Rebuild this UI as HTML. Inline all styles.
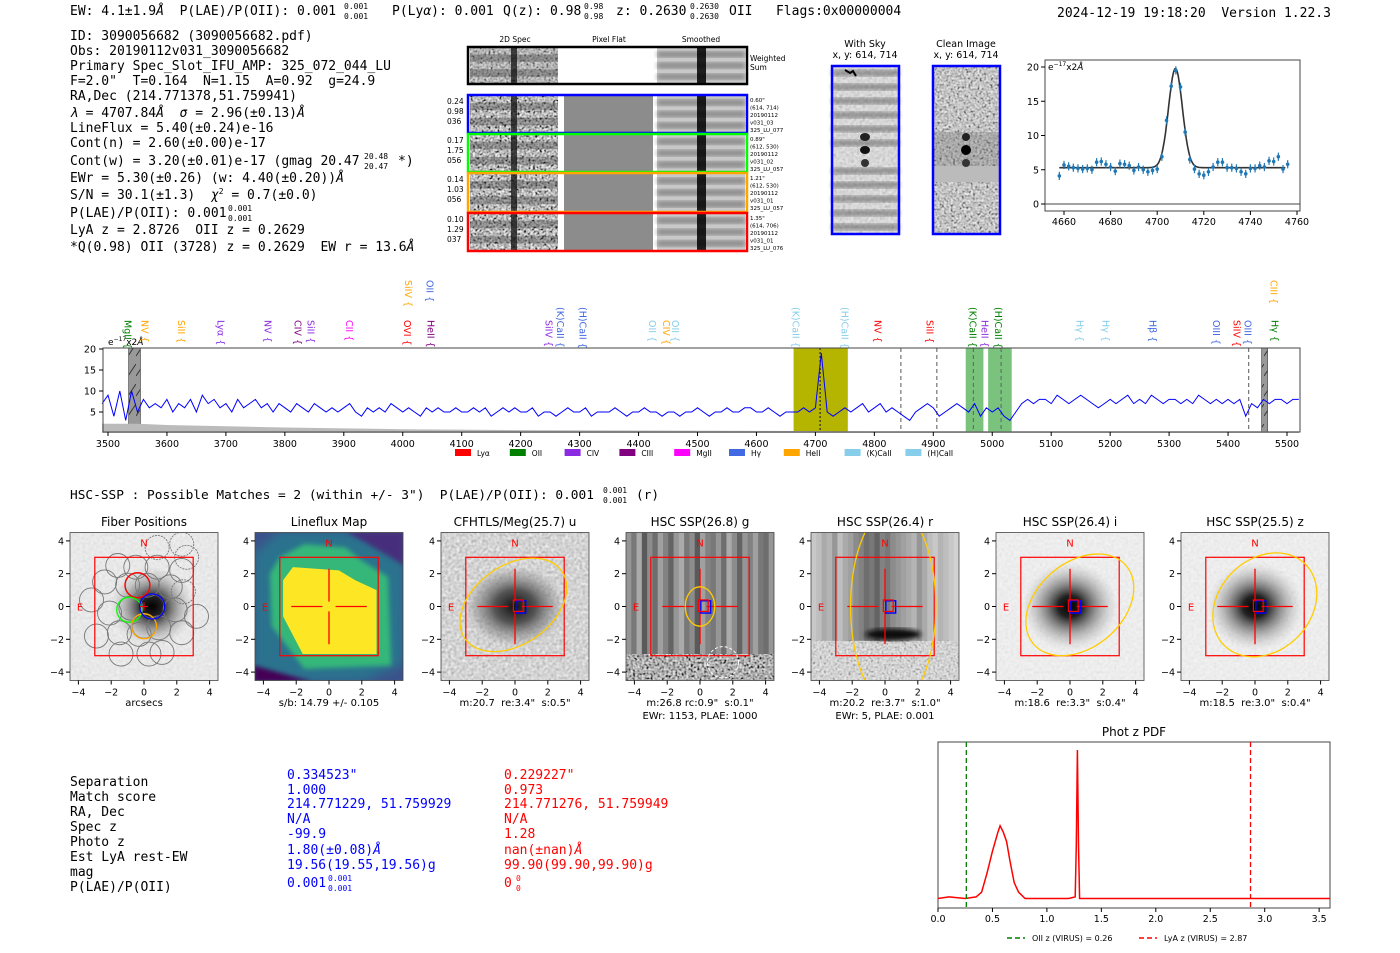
<!DOCTYPE html>
<html><head><meta charset="utf-8"><title>Detection report</title>
<style>
html,body{margin:0;padding:0;background:#fff;}
svg{display:block;}
text{white-space:pre;}
.m{font-family:"DejaVu Sans Mono","Liberation Mono",monospace;}
.s{font-family:"DejaVu Sans","Liberation Sans",sans-serif;}
</style></head>
<body>
<svg id="root" width="1400" height="953" viewBox="0 0 1400 953" xmlns="http://www.w3.org/2000/svg" xml:space="preserve">
<defs>
<filter id="noiseHi" x="0" y="0" width="1" height="1"><feTurbulence type="fractalNoise" baseFrequency="0.45" numOctaves="1" seed="4"/><feColorMatrix type="matrix" values="1.5 1.5 0 0 -1.0  1.5 1.5 0 0 -1.0  1.5 1.5 0 0 -1.0  0 0 0 0 1"/></filter>
<filter id="noiseLo" x="0" y="0" width="1" height="1"><feTurbulence type="fractalNoise" baseFrequency="0.35" numOctaves="1" seed="9"/><feColorMatrix type="matrix" values="0.8 0.8 0 0 -0.2  0.8 0.8 0 0 -0.2  0.8 0.8 0 0 -0.2  0 0 0 0 1"/></filter>
<filter id="blurS"><feGaussianBlur stdDeviation="2.5"/></filter>
<filter id="blurL"><feGaussianBlur stdDeviation="5"/></filter>
<radialGradient id="blobDark"><stop offset="0" stop-color="#000"/><stop offset="0.25" stop-color="#222"/><stop offset="0.6" stop-color="#777" stop-opacity="0.6"/><stop offset="1" stop-color="#bbb" stop-opacity="0"/></radialGradient>
<radialGradient id="blobMid"><stop offset="0" stop-color="#111"/><stop offset="0.4" stop-color="#555"/><stop offset="0.8" stop-color="#999" stop-opacity="0.5"/><stop offset="1" stop-color="#ccc" stop-opacity="0"/></radialGradient>
<pattern id="hatch" width="8" height="20" patternUnits="userSpaceOnUse"><rect width="8" height="20" fill="#999"/><line x1="0" y1="16" x2="8" y2="4" stroke="#333" stroke-width="1"/></pattern>
</defs>

<!-- header -->
<g class="m" font-size="13" fill="#000">
<text x="70" y="15">EW: 4.1±1.9<tspan font-style="italic">Å</tspan>  P(LAE)/P(OII): 0.001</text>
<text x="344" y="9" font-size="8">0.001</text><text x="344" y="19" font-size="8">0.001</text>
<text x="392" y="15">P(Ly<tspan font-style="italic">α</tspan>): 0.001</text>
<text x="503" y="15">Q(z): 0.98</text>
<text x="584" y="9" font-size="8">0.98</text><text x="584" y="19" font-size="8">0.98</text>
<text x="616" y="15">z: 0.2630</text>
<text x="690" y="9" font-size="8">0.2630</text><text x="690" y="19" font-size="8">0.2630</text>
<text x="729" y="15">OII   Flags:0x00000004</text>
<text x="1057" y="17">2024-12-19 19:18:20  Version 1.22.3</text>
</g>

<!-- info block -->
<g class="m" font-size="13" fill="#000">
<text x="70" y="40">ID: 3090056682 (3090056682.pdf)</text>
<text x="70" y="55">Obs: 20190112v031_3090056682</text>
<text x="70" y="70">Primary Spec_Slot_IFU_AMP: 325_072_044_LU</text>
<text x="70" y="85">F=2.0"  T=0.164  N=1.15  A=0.92  g=24.9</text>
<text x="70" y="100">RA,Dec (214.771378,51.759941)</text>
<text x="70" y="117"><tspan font-style="italic">λ</tspan> = 4707.84<tspan font-style="italic">Å</tspan>  <tspan font-style="italic">σ</tspan> = 2.96(±0.13)<tspan font-style="italic">Å</tspan></text>
<text x="70" y="132">LineFlux = 5.40(±0.24)e-16</text>
<text x="70" y="147">Cont(n) = 2.60(±0.00)e-17</text>
<text x="70" y="165">Cont(w) = 3.20(±0.01)e-17 (gmag 20.47</text>
<text x="364" y="159" font-size="8">20.48</text><text x="364" y="169" font-size="8">20.47</text>
<text x="398" y="165">*)</text>
<text x="70" y="182">EWr = 5.30(±0.26) (w: 4.40(±0.20))<tspan font-style="italic">Å</tspan></text>
<text x="70" y="199">S/N = 30.1(±1.3)  <tspan font-style="italic">χ</tspan><tspan font-size="8" dy="-5">2</tspan><tspan dy="5"> = 0.7(±0.0)</tspan></text>
<text x="70" y="217">P(LAE)/P(OII): 0.001</text>
<text x="228" y="211" font-size="8">0.001</text><text x="228" y="221" font-size="8">0.001</text>
<text x="70" y="234">LyA z = 2.8726  OII z = 0.2629</text>
<text x="70" y="251">*Q(0.98) OII (3728) z = 0.2629  EW r = 13.6<tspan font-style="italic">Å</tspan></text>
</g>

<!-- 2D spectra -->
<g id="spec2d">
<g class="s" font-size="7.5" fill="#000"><text x="515" y="42" text-anchor="middle">2D Spec</text><text x="609" y="42" text-anchor="middle">Pixel Flat</text><text x="701" y="42" text-anchor="middle">Smoothed</text>
<text x="750" y="61">Weighted</text><text x="750" y="70">Sum</text></g>
</g>

<!-- with sky / clean -->
<g class="s" font-size="9.5">
<text x="865" y="47" text-anchor="middle">With Sky</text><text x="865" y="58" text-anchor="middle">x, y: 614, 714</text>
<text x="966" y="47" text-anchor="middle">Clean Image</text><text x="966" y="58" text-anchor="middle">x, y: 614, 714</text>
<g>
<rect x="832" y="66" width="67" height="168" fill="#ddd"/>
<rect x="832" y="66" width="67" height="168" filter="url(#noiseLo)" opacity="0.35"/>
<g id="skyBands"></g>
<ellipse cx="865" cy="137" rx="5" ry="4" fill="#222"/><ellipse cx="865" cy="150" rx="5" ry="4" fill="#111"/><ellipse cx="865" cy="163" rx="4" ry="4" fill="#333"/>
<path d="M845 70 l5 3 l3 -2 l3 5" stroke="#000" stroke-width="2" fill="none"/>
<rect x="832" y="66" width="67" height="168" fill="none" stroke="#00f" stroke-width="2.5"/>
</g>
<g>
<rect x="933" y="66" width="67" height="168" fill="#ccc"/>
<rect x="933" y="66" width="67" height="168" filter="url(#noiseHi)" opacity="0.55"/>
<rect x="933" y="132" width="67" height="34" fill="#777" opacity="0.35"/>
<rect x="933" y="166" width="67" height="16" fill="#bbb"/>
<ellipse cx="966" cy="137" rx="4" ry="4" fill="#222"/><ellipse cx="966" cy="150" rx="5" ry="5" fill="#000"/><ellipse cx="966" cy="163" rx="4" ry="4" fill="#333"/>
<rect x="933" y="66" width="67" height="168" fill="none" stroke="#00f" stroke-width="2.5"/>
</g>
</g>

<g id="linefit"></g>
<g id="spectrum"></g>

<text class="m" font-size="12.8" x="70" y="499">HSC-SSP : Possible Matches = 2 (within +/- 3")  P(LAE)/P(OII): 0.001</text>
<text class="m" font-size="8" x="603" y="493">0.001</text>
<text class="m" font-size="8" x="603" y="503">0.001</text>
<text class="m" font-size="12.8" x="636" y="499">(r)</text>

<g id="cutouts"></g>

<!-- match table -->
<g class="m" font-size="13">
<g fill="#000"><text x="70" y="786">Separation</text><text x="70" y="801">Match score</text><text x="70" y="816">RA, Dec</text><text x="70" y="831">Spec z</text><text x="70" y="846">Photo z</text><text x="70" y="861">Est LyA rest-EW</text><text x="70" y="876">mag</text><text x="70" y="891">P(LAE)/P(OII)</text></g>
<g fill="#00f"><text x="287" y="779">0.334523"</text><text x="287" y="794">1.000</text><text x="287" y="808">214.771229, 51.759929</text><text x="287" y="823">N/A</text><text x="287" y="838">-99.9</text><text x="287" y="854">1.80(±0.08)<tspan font-style="italic">Å</tspan></text><text x="287" y="869">19.56(19.55,19.56)g</text><text x="287" y="887">0.001</text><text x="328" y="881" font-size="8">0.001</text><text x="328" y="891" font-size="8">0.001</text></g>
<g fill="#f00"><text x="504" y="779">0.229227"</text><text x="504" y="794">0.973</text><text x="504" y="808">214.771276, 51.759949</text><text x="504" y="823">N/A</text><text x="504" y="838">1.28</text><text x="504" y="854">nan(±nan)<tspan font-style="italic">Å</tspan></text><text x="504" y="869">99.90(99.90,99.90)g</text><text x="504" y="887">0</text><text x="516" y="881" font-size="8">0</text><text x="516" y="891" font-size="8">0</text></g>
</g>

<g id="photz"></g>
</svg>

<script>
// ===== line fit data =====
var fitWave = [4658,4660,4662,4664,4666,4668,4670,4672,4674,4676,4678,4680,4682,4684,4686,4688,4690,4692,4694,4696,4698,4700,4702,4704,4706,4708,4710,4712,4714,4716,4718,4720,4722,4724,4726,4728,4730,4732,4734,4736,4738,4740,4742,4744,4746,4748,4750,4752,4754,4756];
var fitFlux = [4.1,5.7,5.5,5.3,5.2,5.1,5.2,5.0,6.1,6.2,5.8,5.4,4.8,5.9,5.8,5.6,4.9,5.4,5.0,4.7,4.9,5.1,6.9,12.2,17.2,19.5,17.1,10.5,6.5,5.1,4.4,4.2,4.7,5.4,6.1,6.1,5.3,5.3,5.2,4.7,4.4,5.2,5.2,5.6,5.4,6.3,6.2,6.9,5.1,5.8];
var fitErr = [0.6,0.6,0.6,0.6,0.6,0.6,0.6,0.6,0.6,0.6,0.6,0.6,0.6,0.6,0.6,0.6,0.6,0.6,0.6,0.6,0.6,0.6,0.6,0.6,0.6,0.6,0.6,0.6,0.6,0.6,0.6,0.6,0.6,0.6,0.6,0.6,0.6,0.6,0.6,0.6,0.6,0.6,0.6,0.6,0.6,0.6,0.6,0.6,0.6,0.6];
var fitParams = [4707.84, 2.96, 14.5, 5.3]; // center, sigma, amplitude, continuum
var fitXTicks = [4660,4680,4700,4720,4740,4760];
var fitYTicks = [0,5,10,15,20];

// ===== spectrum data =====
var specStart = [3490];
var specStep = [10];
var specFlux = [7,9,4,10,3,10,5,8,6,7, 6,8,5,7,6,8,5,9,7,8, 6,7,5,8,6,7,8,6,7,5, 7,6,5,7,6,5,7,6,5,6, 5,6,7,5,4,6,5,6,5,7, 6,5,6,5,4,6,5,6,5,5, 6,5,5,6,5,6,4,5,6,5, 6,5,5,6,4,5,5,4,5,6, 5,5,6,4,5,5,5,6,5,4, 5,5,6,5,5,4,5,5,4,5, 5,6,5,4,5,5,6,5,5,6, 6,5,5,6,5,4,5,5,5,6, 5,6,19,5,4,5,6,5,6,7, 5,6,7,5,6,5,4,3,5,6, 7,6,4,5,6,7,6,5,7,4, 6,5,6,4,3,5,7,8,7,8, 8,7,9,8,7,8,9,8,7,6, 7,8,7,8,9,7,8,7,9,8, 7,8,8,7,8,7,9,8,7,8, 7,8,7,8,4,7,6,8,7,8, 8,7,8,8];
var noiseWave = [3490,3550,3600,3700,3800,3900,4000,4200,4400,4600,4800,5000,5200,5520];
var noiseFlux = [2.2,2.2,1.9,1.6,1.3,1.1,0.9,0.7,0.6,0.5,0.4,0.4,0.4,0.4];
var specXTicks = [3500,3600,3700,3800,3900,4000,4100,4200,4300,4400,4500,4600,4700,4800,4900,5000,5100,5200,5300,5400,5500];
var specYTicks = [5,10,15,20];
var lineNames = ["MgII","NV","SiII","Lyα","NV","CIV","SiII","CII","SiIV","OVI","OII","HeII","SiIV","(K)CaII","(H)CaII","OII","CIV","OII","(K)CaII","(H)CaII","NV","SiII","(K)CaII","HeII","(H)CaII","Hγ","Hγ","Hβ","OIII","SiIV","OIII","CIII","Hγ"];
var lineWaves = [3534,3563,3625,3692,3771,3822,3844,3910,4010,4008,4046,4048,4248,4268,4306,4424,4447,4463,4667,4750,4806,4894,4967,4988,5011,5149,5193,5273,5380,5415,5434,5478,5480];
var lineRows = [1,1,1,1,1,1,1,1,0,1,0,1,1,1,1,1,1,1,1,1,1,1,1,1,1,1,1,1,1,1,1,0,1];
var lineColors = ["#008000","#ffa500","#ffa500","#8a2be2","#8a2be2","#800080","#8a2be2","#ff00ff","#ffa500","#ff0000","#4169e1","#800080","#8a2be2","#4169e1","#4169e1","#87ceeb","#ffa500","#87ceeb","#87ceeb","#87ceeb","#ff0000","#ff0000","#008000","#8a2be2","#008000","#87ceeb","#87ceeb","#4169e1","#4169e1","#ff0000","#4169e1","#ffa500","#008000"];
var maskStart = [3535,5457];
var maskEnd = [3555,5467];
var bandStart = [4663,4955,4993];
var bandEnd = [4755,4985,5033];
var bandColors = ["#b5b500","#4caf50","#4caf50"];
var dashWaves = [4708,4845,4906,4968,5015,5435];
var legendNames = ["Lyα","OII","CIV","CIII","MgII","Hγ","HeII","(K)CaII","(H)CaII"];
var legendColors = ["#ff0000","#008000","#8a2be2","#800080","#ff00ff","#4169e1","#ffa500","#87ceeb","#87ceeb"];

// ===== photz data =====
var pzZ = [0,0.1,0.25,0.35,0.4,0.45,0.5,0.55,0.57,0.6,0.63,0.66,0.7,0.74,0.8,1.0,1.2,1.26,1.27,1.28,1.29,1.3,1.4,2.0,3.0,3.6];
var pzP = [0.06,0.07,0.06,0.07,0.1,0.22,0.36,0.48,0.52,0.48,0.42,0.3,0.16,0.1,0.06,0.06,0.06,0.07,0.4,1.0,0.4,0.06,0.06,0.06,0.06,0.06];
var pzXTicks = [0,0.5,1.0,1.5,2.0,2.5,3.0,3.5];
var pzMarks = [0.26,2.87];

var NS='http://www.w3.org/2000/svg';
function mk(tag,parent){var e=document.createElementNS(NS,tag);parent.appendChild(e);return e;}
function txt(parent,x,y,s,size,anchor,fill){var t=mk('text',parent);t.setAttribute('x',x);t.setAttribute('y',y);t.setAttribute('font-size',size);t.setAttribute('font-family','DejaVu Sans, Liberation Sans, sans-serif');if(anchor)t.setAttribute('text-anchor',anchor);t.setAttribute('fill',fill||'#000');t.textContent=s;return t;}

// ===== 2D spectra =====
(function(){
 var g=document.getElementById('spec2d');
 var boxes=[{y:47,h:37,c:'#000',l:null,r:null},{y:95,h:38,c:'#00f',l:['0.24','0.98','036'],r:['0.60"','(614, 714)','20190112','v031_03','325_LU_077']},{y:134,h:38,c:'#0f0',l:['0.17','1.75','056'],r:['0.89"','(612, 530)','20190112','v031_02','325_LU_057']},{y:173,h:39,c:'#ffa500',l:['0.14','1.03','056'],r:['1.21"','(612, 530)','20190112','v031_01','325_LU_057']},{y:213,h:38,c:'#f00',l:['0.10','1.29','037'],r:['1.35"','(614, 706)','20190112','v031_01','325_LU_076']}];
 boxes.forEach(function(b,i){
  var bg=mk('g',g);
  
  
  var r=mk('rect',bg);r.setAttribute('x',470);r.setAttribute('y',b.y);r.setAttribute('width',88);r.setAttribute('height',b.h);r.setAttribute('fill','#aaa');
  var n=mk('rect',bg);n.setAttribute('x',470);n.setAttribute('y',b.y);n.setAttribute('width',88);n.setAttribute('height',b.h);n.setAttribute('filter','url(#noiseHi)');n.setAttribute('opacity',i==0?0.55:0.85);
  for(var k=0;k<2;k++){var d=mk('rect',bg);d.setAttribute('x',470);d.setAttribute('y',b.y+b.h*(0.2+0.4*k));d.setAttribute('width',88);d.setAttribute('height',b.h*0.2);d.setAttribute('fill','#333');d.setAttribute('opacity',0.35);}
  var col=mk('rect',bg);col.setAttribute('x',511);col.setAttribute('y',b.y);col.setAttribute('width',6);col.setAttribute('height',b.h);col.setAttribute('fill','#111');col.setAttribute('opacity',0.75);
  var pf=mk('rect',bg);pf.setAttribute('x',564);pf.setAttribute('y',b.y);pf.setAttribute('width',89);pf.setAttribute('height',b.h);pf.setAttribute('fill',i==0?'#fff':'#8c8c8c');
  var sm=mk('rect',bg);sm.setAttribute('x',657);sm.setAttribute('y',b.y);sm.setAttribute('width',88);sm.setAttribute('height',b.h);sm.setAttribute('fill','#c8c8c8');
  for(var k=0;k<3;k++){var d2=mk('rect',bg);d2.setAttribute('x',657);d2.setAttribute('y',b.y+b.h*(0.12+0.3*k));d2.setAttribute('width',88);d2.setAttribute('height',b.h*0.16);d2.setAttribute('fill','#555');d2.setAttribute('opacity',0.55);d2.setAttribute('filter','url(#blurS)');}
  var c2=mk('rect',bg);c2.setAttribute('x',697);c2.setAttribute('y',b.y);c2.setAttribute('width',9);c2.setAttribute('height',b.h);c2.setAttribute('fill','#000');c2.setAttribute('opacity',0.85);
  var fr=mk('rect',bg);fr.setAttribute('x',468);fr.setAttribute('y',b.y);fr.setAttribute('width',279);fr.setAttribute('height',b.h);fr.setAttribute('fill','none');fr.setAttribute('stroke',b.c);fr.setAttribute('stroke-width',2.5);
  if(b.l){b.l.forEach(function(s,j){txt(bg,447,b.y+9+j*10,s,7.5,null,'#000');});}
  if(b.r){b.r.forEach(function(s,j){txt(bg,750,b.y+7+j*7.5,s,5.5,null,'#000');});}
 });
 var sb=document.getElementById('skyBands');
 for(var k=0;k<12;k++){ if(k==6) continue; var r=mk('rect',sb);r.setAttribute('x',832);r.setAttribute('y',70+k*14);r.setAttribute('width',67);r.setAttribute('height',6);r.setAttribute('fill','#555');r.setAttribute('opacity',0.6);r.setAttribute('filter','url(#blurS)');}
})();

// ===== line fit chart =====
(function(){
 var g=document.getElementById('linefit');
 var X0=1045,X1=1300,Y0=60,Y1=211;
 function fx(w){return 1064+(w-4660)*2.33;}
 function fy(v){return 204-v*6.85;}
 var f=mk('rect',g);f.setAttribute('x',X0);f.setAttribute('y',Y0);f.setAttribute('width',X1-X0);f.setAttribute('height',Y1-Y0);f.setAttribute('fill','none');f.setAttribute('stroke','#444');
 
 
 var z=mk('line',g);z.setAttribute('x1',X0);z.setAttribute('x2',X1);z.setAttribute('y1',fy(0));z.setAttribute('y2',fy(0));z.setAttribute('stroke','#444');
 fitXTicks.forEach(function(t){var l=mk('line',g);l.setAttribute('x1',fx(t));l.setAttribute('x2',fx(t));l.setAttribute('y1',Y1);l.setAttribute('y2',Y1+4);l.setAttribute('stroke','#000');var tt=txt(g,fx(t),Y1+14,String(t),9.5,'middle');});
 fitYTicks.forEach(function(t){var l=mk('line',g);l.setAttribute('x1',X0-4);l.setAttribute('x2',X0);l.setAttribute('y1',fy(t));l.setAttribute('y2',fy(t));l.setAttribute('stroke','#000');var tt=txt(g,X0-6,fy(t)+3.5,String(t),9.5,'end');});
 var u=txt(g,X0+3,Y0+10,'e',9,null);var sp=mk('tspan',u);sp.setAttribute('font-size',6);sp.setAttribute('dy',-4);sp.textContent='−17';var sp2=mk('tspan',u);sp2.setAttribute('dy',4);sp2.textContent='x2';var sp3=mk('tspan',u);sp3.setAttribute('font-style','italic');sp3.textContent='Å';
 
 
 var d='';for(var w=4658;w<=4755;w+=0.5){var v=fitParams[3]+fitParams[2]*Math.exp(-0.5*Math.pow((w-fitParams[0])/fitParams[1],2));d+=(d?'L':'M')+fx(w).toFixed(1)+' '+fy(v).toFixed(1);}
 var p=mk('path',g);p.setAttribute('d',d);p.setAttribute('stroke','#333');p.setAttribute('stroke-width',1.6);p.setAttribute('fill','none');
 
 
 fitWave.forEach(function(w,i){
  var e=mk('line',g);e.setAttribute('x1',fx(w));e.setAttribute('x2',fx(w));e.setAttribute('y1',fy(fitFlux[i]-fitErr[i]));e.setAttribute('y2',fy(fitFlux[i]+fitErr[i]));e.setAttribute('stroke','#1f77b4');e.setAttribute('stroke-width',1.2);
  var c=mk('circle',g);c.setAttribute('cx',fx(w));c.setAttribute('cy',fy(fitFlux[i]));c.setAttribute('r',1.8);c.setAttribute('fill','#1f77b4');
  
  
 });
})();

// ===== spectrum chart =====
(function(){
 var g=document.getElementById('spectrum');
 var X0=103,X1=1300,Y0=348,Y1=432;
 function sx(w){return 108+(w-3500)*0.5895;}
 function sy(v){return 433-v*4.2;}
 bandStart.forEach(function(s,i){var r=mk('rect',g);r.setAttribute('x',sx(s));r.setAttribute('y',Y0);r.setAttribute('width',sx(bandEnd[i])-sx(s));r.setAttribute('height',Y1-Y0);r.setAttribute('fill',bandColors[i]);r.setAttribute('opacity',i==0?1:0.75);
  
  });
 maskStart.forEach(function(s,i){var r=mk('rect',g);r.setAttribute('x',sx(s));r.setAttribute('y',Y0);r.setAttribute('width',sx(maskEnd[i])-sx(s));r.setAttribute('height',Y1-Y0);r.setAttribute('fill','url(#hatch)');r.setAttribute('stroke','#333');r.setAttribute('stroke-width',0.6);
  
  });
 var d='M'+sx(noiseWave[0])+' '+sy(0);noiseWave.forEach(function(w,i){d+='L'+sx(w).toFixed(1)+' '+sy(noiseFlux[i]).toFixed(1);});d+='L'+sx(noiseWave[noiseWave.length-1])+' '+sy(0)+'Z';
 var nf=mk('path',g);nf.setAttribute('d',d);nf.setAttribute('fill','#bbb');
 
 
 dashWaves.forEach(function(w,i){var l=mk('line',g);l.setAttribute('x1',sx(w));l.setAttribute('x2',sx(w));l.setAttribute('y1',Y0);l.setAttribute('y2',Y1);l.setAttribute('stroke',i==0?'#222':'#666');l.setAttribute('stroke-dasharray',i==0?'2,2':'4,3');l.setAttribute('stroke-width',1.1);
  
  });
 var pd='';specFlux.forEach(function(v,i){var w=specStart[0]+specStep[0]*i;pd+=(pd?'L':'M')+sx(w).toFixed(1)+' '+sy(v).toFixed(1);});
 var sp=mk('path',g);sp.setAttribute('d',pd);sp.setAttribute('stroke','#0000ff');sp.setAttribute('stroke-width',1);sp.setAttribute('fill','none');
 
 
 var fr=mk('rect',g);fr.setAttribute('x',X0);fr.setAttribute('y',Y0);fr.setAttribute('width',X1-X0);fr.setAttribute('height',Y1-Y0);fr.setAttribute('fill','none');fr.setAttribute('stroke','#444');
 specXTicks.forEach(function(t){var l=mk('line',g);l.setAttribute('x1',sx(t));l.setAttribute('x2',sx(t));l.setAttribute('y1',Y1);l.setAttribute('y2',Y1+4);l.setAttribute('stroke','#000');var tt=txt(g,sx(t),Y1+15,String(t),9.5,'middle');});
 specYTicks.forEach(function(t){var l=mk('line',g);l.setAttribute('x1',X0-4);l.setAttribute('x2',X0);l.setAttribute('y1',sy(t));l.setAttribute('y2',sy(t));l.setAttribute('stroke','#000');var tt=txt(g,X0-7,sy(t)+3.5,String(t),9.5,'end');});
 var u=txt(g,108,345,'e',9,null);var s1=mk('tspan',u);s1.setAttribute('font-size',6);s1.setAttribute('dy',-4);s1.textContent='−17';var s2=mk('tspan',u);s2.setAttribute('dy',4);s2.textContent='x2';var s3=mk('tspan',u);s3.setAttribute('font-style','italic');s3.textContent='Å';
 
 
 lineNames.forEach(function(n,i){var x=sx(lineWaves[i]);var y=lineRows[i]==0?280:(n.length>4?307:320);
  var t=txt(g,0,0,n+' {',9.5,null,lineColors[i]);t.setAttribute('transform','translate('+(x-3.5)+','+y+') rotate(90)');
  
  });
 legendNames.forEach(function(n,i){var x=455+i*54.8+(i>=7?(i-6)*6:0);var r=mk('rect',g);r.setAttribute('x',x);r.setAttribute('y',449);r.setAttribute('width',16);r.setAttribute('height',7);r.setAttribute('fill',legendColors[i]);
  
  
  var t=txt(g,x+22,456,n,7.5,null,'#000');
  
  });
})();

// ===== cutouts =====
(function(){
 var root=document.getElementById('cutouts');
 var centers=[144,329,515,700,885,1070,1255];
 var titles=['Fiber Positions','Lineflux Map','CFHTLS/Meg(25.7) u','HSC SSP(26.8) g','HSC SSP(26.4) r','HSC SSP(26.4) i','HSC SSP(25.5) z'];
 var sub1=['arcsecs','s/b: 14.79 +/- 0.105','m:20.7  re:3.4"  s:0.5"','m:26.8 rc:0.9"  s:0.1"','m:20.2  re:3.7"  s:1.0"','m:18.6  re:3.3"  s:0.4"','m:18.5  re:3.0"  s:0.4"'];
 var sub2=['','','','EWr: 1153, PLAE: 1000','EWr: 5, PLAE: 0.001','',''];
 var S=16.4, CY=606.5, H=74;
 var stripesG=[150,120,170,90,140,110,160,130,100,150,170,120,140,90,160,130,120,150,110,170,140,100,150,130,160,120,110,150];
 var stripesR=[200,190,170,180,150,190,170,160,140,130,110,120,100,130,120,140,150,160,170,180,150,170,190,200,180,190,200,210];
 centers.forEach(function(c,i){
  var g=mk('g',root);
  
  
  var cp=mk('clipPath',g);cp.setAttribute('id','cp'+i);var cr=mk('rect',cp);cr.setAttribute('x',c-H);cr.setAttribute('y',CY-H);cr.setAttribute('width',2*H);cr.setAttribute('height',2*H);
  var im=mk('g',g);im.setAttribute('clip-path','url(#cp'+i+')');
  function X(u){return c+u*S;} function Y(v){return CY-v*S;}
  function rect(x,y,w,h,fill,op){var r=mk('rect',im);r.setAttribute('x',x);r.setAttribute('y',y);r.setAttribute('width',w);r.setAttribute('height',h);r.setAttribute('fill',fill);if(op!=null)r.setAttribute('opacity',op);return r;}
  function noise(x,y,w,h,op,hi){var r=rect(x,y,w,h,'#000');r.setAttribute('filter',hi?'url(#noiseHi)':'url(#noiseLo)');r.setAttribute('opacity',op);}
  function blob(cx,cy,rx,ry,grad){var e=mk('ellipse',im);e.setAttribute('cx',cx);e.setAttribute('cy',cy);e.setAttribute('rx',rx);e.setAttribute('ry',ry);e.setAttribute('fill','url(#'+grad+')');}
  var L=c-H,T=CY-H,W=2*H;
  if(i==0){rect(L,T,W,W,'#eee');noise(L,T,W,W,0.15);blob(X(0.5),Y(0),42,40,'blobDark');}
  else if(i==1){rect(L,T,W,W,'#3b528b');
   var pts=function(a){return a.map(function(p){return X(p[0])+','+Y(p[1]);}).join(' ');};
   var p0=mk('polygon',im);p0.setAttribute('points',pts([[-4.6,3.2],[-3,4.6],[4.6,4.6],[4.6,-3.5],[2,-4.6],[-4.6,-4.6]]));p0.setAttribute('fill','#2c728e');p0.setAttribute('filter','url(#blurL)');
   var p1=mk('polygon',im);p1.setAttribute('points',pts([[-3,3],[-1.5,3.8],[1,3.6],[2,2.8],[3.6,1.8],[3.8,-3.6],[-1.5,-3.8],[-3.5,-1.2],[-3.6,2]]));p1.setAttribute('fill','#35b779');p1.setAttribute('filter','url(#blurS)');
   var p2=mk('polygon',im);p2.setAttribute('points',pts([[-2.2,2.4],[0.6,2.2],[1.6,1.6],[2.9,1],[2.9,-2.9],[-1.6,-2.9],[-2.8,-0.6],[-2.8,1.6]]));p2.setAttribute('fill','#fde725');
   var p3=mk('polygon',im);p3.setAttribute('points',pts([[-4.6,-3.6],[-1,-4.6],[-4.6,-4.6]]));p3.setAttribute('fill','#440154');p3.setAttribute('filter','url(#blurS)');
   var p4=mk('polygon',im);p4.setAttribute('points',pts([[1,4.6],[4.6,4.6],[4.6,2.5]]));p4.setAttribute('fill','#472d7b');p4.setAttribute('filter','url(#blurS)');}
  else if(i==2){rect(L,T,W,W,'#ddd');noise(L,T,W,W,0.5);blob(X(0),Y(0),52,42,'blobMid');}
  else if(i==3){stripesG.forEach(function(v,k){rect(L+k*W/stripesG.length,T,W/stripesG.length+0.5,W,'rgb('+v+','+v+','+v+')');});rect(L,Y(-2.9),W,W,'#777');noise(L,Y(-2.9),W,30,0.8,true);}
  else if(i==4){stripesR.forEach(function(v,k){rect(L+k*W/stripesR.length,T,W/stripesR.length+0.5,W,'rgb('+v+','+v+','+v+')');});rect(L,Y(-2.1),W,50,'#ddd');noise(L,Y(-2.1),W,50,0.3,true);var e=mk('ellipse',im);e.setAttribute('cx',X(0.5));e.setAttribute('cy',Y(-1.7));e.setAttribute('rx',28);e.setAttribute('ry',6);e.setAttribute('fill','#111');e.setAttribute('filter','url(#blurS)');}
  else {rect(L,T,W,W,'#f2f2f2');noise(L,T,W,W,0.12);blob(X(0),Y(0),48,44,'blobDark');}
  function ov(tag){return mk(tag,im);}
  if(i==0){
   var fib=[[-3.2,0.4],[-2.9,-1.8],[-2.4,1.5],[-2.1,-0.4],[-1.6,2.5],[-1.5,-1.6],[-1.4,-2.9],[-1.0,1.3],[-0.8,-0.1],[-0.5,2.4],[-0.3,-1.7],[0.3,-2.9],[0.2,1.3],[0.5,0],[0.9,-1.3],[0.8,2.4],[1.6,1.2],[1.9,-0.2],[2.3,-1.6],[2.3,2.2],[1.1,-2.8],[3.2,-0.6],[2.6,3.0],[0.8,3.6],[2.3,3.8],[2.4,0.9],[-0.4,1.3],[0,-1.2]];
   fib.forEach(function(p,k){var ci=ov('circle');ci.setAttribute('cx',X(p[0]));ci.setAttribute('cy',Y(p[1]));ci.setAttribute('r',12);ci.setAttribute('fill','none');ci.setAttribute('stroke','#777');ci.setAttribute('stroke-width',0.9);if(k>=22&&k<26)ci.setAttribute('stroke-dasharray','2,1');});
   [['#f00',-0.4,1.3],['#0f0',-0.9,-0.2],['#ffa500',0,-1.2],['#00f',0.5,0]].forEach(function(q){var ci=ov('circle');ci.setAttribute('cx',X(q[1]));ci.setAttribute('cy',Y(q[2]));ci.setAttribute('r',12.5);ci.setAttribute('fill','none');ci.setAttribute('stroke',q[0]);ci.setAttribute('stroke-width',1.3);});
  }
  var sq=ov('rect');sq.setAttribute('x',X(-3));sq.setAttribute('y',Y(3));sq.setAttribute('width',6*S);sq.setAttribute('height',6*S);sq.setAttribute('fill','none');sq.setAttribute('stroke','#f00');sq.setAttribute('stroke-width',1.2);
  if(i==0){var a=ov('path');a.setAttribute('d','M'+(c-4)+' '+CY+'h8M'+c+' '+(CY-4)+'v8');a.setAttribute('stroke','#f00');}
  else{var a2=ov('path');a2.setAttribute('d','M'+X(-2.3)+' '+CY+'H'+X(-0.4)+'M'+X(0.4)+' '+CY+'H'+X(2.3)+'M'+c+' '+Y(2.3)+'V'+Y(0.3)+'M'+c+' '+Y(-0.3)+'V'+Y(-2.3));a2.setAttribute('stroke','#f00');a2.setAttribute('stroke-width',1.3);}
  var ell=[null,null,[-0.1,0.1,3.6,2.4,-35],[0,0,0.9,1.2,0],[0.5,0,2.6,6,0],[0.6,0.1,3.7,2.6,-40],[0.6,0.1,3.5,2.8,-45]][i];
  if(ell){var e2=ov('ellipse');e2.setAttribute('cx',X(ell[0]));e2.setAttribute('cy',Y(ell[1]));e2.setAttribute('rx',ell[2]*S);e2.setAttribute('ry',ell[3]*S);e2.setAttribute('transform','rotate('+ell[4]+' '+X(ell[0])+' '+Y(ell[1])+')');e2.setAttribute('fill','none');e2.setAttribute('stroke','#ffcc00');e2.setAttribute('stroke-width',1.3);}
  if(i==3){var wc=ov('circle');wc.setAttribute('cx',X(1.4));wc.setAttribute('cy',Y(-3.4));wc.setAttribute('r',0.95*S);wc.setAttribute('fill','none');wc.setAttribute('stroke','#fff');wc.setAttribute('stroke-dasharray','3,2');}
  if(i>=2){var bs=ov('rect');bs.setAttribute('x',X(0.05));bs.setAttribute('y',Y(0.35));bs.setAttribute('width',0.6*S);bs.setAttribute('height',0.75*S);bs.setAttribute('fill','none');bs.setAttribute('stroke','#00f');bs.setAttribute('stroke-width',1.4);
   var rs=ov('rect');rs.setAttribute('x',X(-0.1));rs.setAttribute('y',Y(0.4));rs.setAttribute('width',0.6*S);rs.setAttribute('height',0.7*S);rs.setAttribute('fill','none');rs.setAttribute('stroke','#f00');rs.setAttribute('stroke-width',1.2);}
  var nl=txt(g,c,Y(3.9)+4,'N',10,'middle','#f00');
  var el=txt(g,X(-3.9),CY+4,'E',10,'middle','#f00');
  var fr=mk('rect',g);fr.setAttribute('x',L);fr.setAttribute('y',T);fr.setAttribute('width',W);fr.setAttribute('height',W);fr.setAttribute('fill','none');fr.setAttribute('stroke','#444');fr.setAttribute('stroke-width',0.8);
  [-4,-2,0,2,4].forEach(function(t){var lab=(t<0?'−':'')+Math.abs(t);
   var l=mk('line',g);l.setAttribute('x1',X(t));l.setAttribute('x2',X(t));l.setAttribute('y1',T+W);l.setAttribute('y2',T+W+4);l.setAttribute('stroke','#000');
   var tx=txt(g,X(t),T+W+15,lab,9.5,'middle');
   var l2=mk('line',g);l2.setAttribute('x1',L-4);l2.setAttribute('x2',L);l2.setAttribute('y1',Y(t));l2.setAttribute('y2',Y(t));l2.setAttribute('stroke','#000');
   var ty=txt(g,L-6,Y(t)+3.5,lab,9.5,'end');});
  var tt=txt(g,c,526,titles[i],12,'middle');
  var s1=txt(g,c,706,sub1[i],10,'middle');
  if(sub2[i]){var s2=txt(g,c,719,sub2[i],10,'middle');}
 });
})();

// ===== photz =====
(function(){
 var g=document.getElementById('photz');
 var X0=938,X1=1330,Y0=742,Y1=908;
 function px(z){return 938+z*108.9;}
 function py(p){return 908-p*158;}
 var fr=mk('rect',g);fr.setAttribute('x',X0);fr.setAttribute('y',Y0);fr.setAttribute('width',X1-X0);fr.setAttribute('height',Y1-Y0);fr.setAttribute('fill','none');fr.setAttribute('stroke','#444');
 var t=txt(g,1134,736,'Phot z PDF',12,'middle');
 pzXTicks.forEach(function(z){var l=mk('line',g);l.setAttribute('x1',px(z));l.setAttribute('x2',px(z));l.setAttribute('y1',Y1);l.setAttribute('y2',Y1+4);l.setAttribute('stroke','#000');var tx=txt(g,px(z),Y1+14,z.toFixed(1),9.5,'middle');});
 var d='';pzZ.forEach(function(z,i){d+=(d?'L':'M')+px(z).toFixed(1)+' '+py(pzP[i]).toFixed(1);});
 var p=mk('path',g);p.setAttribute('d',d);p.setAttribute('stroke','#f00');p.setAttribute('stroke-width',1.5);p.setAttribute('fill','none');
 
 
 var mc=['#008000','#f00'];
 pzMarks.forEach(function(z,i){var l=mk('line',g);l.setAttribute('x1',px(z));l.setAttribute('x2',px(z));l.setAttribute('y1',Y0);l.setAttribute('y2',Y1);l.setAttribute('stroke',mc[i]);l.setAttribute('stroke-width',1.3);l.setAttribute('stroke-dasharray','5,3');
  
  });
 [[1007,'OII z (VIRUS) = 0.26','#008000'],[1139,'LyA z (VIRUS) = 2.87','#f00']].forEach(function(q){var l=mk('line',g);l.setAttribute('x1',q[0]);l.setAttribute('x2',q[0]+18);l.setAttribute('y1',938);l.setAttribute('y2',938);l.setAttribute('stroke',q[2]);l.setAttribute('stroke-width',1.5);l.setAttribute('stroke-dasharray','5,3');
  var tx=txt(g,q[0]+25,941,q[1],8,null,'#000');});
})();
</script>
</body></html>
